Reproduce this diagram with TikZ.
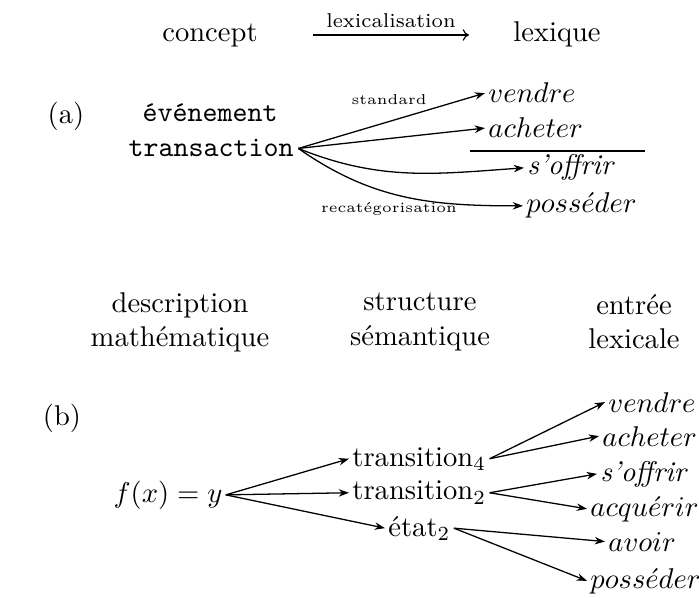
\documentclass[tikz,border=0pt]{standalone}
\usepackage{amsmath}
\usetikzlibrary{arrows.meta}
\tikzset{
  lbl/.style={inner sep=1pt},
  arr/.style={-{Stealth[length=3.6pt,width=2.6pt]}, line width=0.45pt},
  mtharr/.style={-{To[length=2.2pt,width=4pt]}, line width=0.4pt},
  small lbl/.style={font=\tiny, inner sep=0pt},
}
\begin{document}
\begin{tikzpicture}[x=0.35pt,y=-0.35pt]
\useasboundingbox (0,0) rectangle (699,598);
% ---------- header ----------
\node[anchor=base] (concept) at (210,42) {concept};
\node[anchor=base] (lexique) at (557,42) {lexique};
\coordinate (la) at (313,35);
\coordinate (lb) at (469,35);
\draw[mtharr] (la) -- node[above=2.5pt, font=\scriptsize, inner sep=0pt] (lexlbl) {lexicalisation} (lb);
% ---------- (a) ----------
\node[anchor=base] (pa) at (66,124) {(a)};
\node[anchor=base, font=\ttfamily] (ev) at (210,122) {événement};
\node[anchor=base, font=\ttfamily, inner sep=1.5pt] (trans) at (211,157) {transaction};
\node[anchor=base west, lbl] (v1) at (485,103) {$vendre$};
\node[anchor=base west, lbl] (a1) at (485,138) {$acheter$};
\node[anchor=base west, lbl] (s1) at (524,175) {\textit{s'offrir}};
\node[anchor=base west, lbl] (p1) at (523,213) {$poss\acute{e}der$};
\node[small lbl] (std) at (389,100) {standard};
\node[small lbl] (rec) at (389,209) {recatégorisation};
\draw[arr] (trans.east) -- (v1.west);
\draw[arr] (trans.east) -- (a1.west);
\draw[arr] (trans.east) to[out=-22,in=184] (s1.west);
\draw[arr] (trans.east) to[out=-35,in=180] (p1.west);
\coordinate (rl) at (470,151);
\coordinate (rr) at (645,151);
\draw[line width=0.8pt] (rl) -- (rr);
% ---------- (b) ----------
\node[align=center] (hd1) at (180,322) {description\\mathématique};
\node[align=center] (hd2) at (420,322) {structure\\sémantique};
\node[align=center] (hd3) at (634,322) {entrée\\lexicale};
\node[anchor=base] (pb) at (62,425) {(b)};
\node[anchor=base, lbl] (f) at (168,502) {$f(x)=y$};
\node[anchor=base west, lbl] (t4) at (349,466) {transition$_4$};
\node[anchor=base west, lbl] (t2) at (349,500) {transition$_2$};
\node[anchor=base west, lbl] (e2) at (385,536) {état$_2$};
\node[anchor=base west, lbl] (bv) at (605,412) {$vendre$};
\node[anchor=base west, lbl] (ba) at (599,446) {$acheter$};
\node[anchor=base west, lbl] (bs) at (597,481) {\textit{s'offrir}};
\node[anchor=base west, lbl] (bq) at (587,516) {$acqu\acute{e}rir$};
\node[anchor=base west, lbl] (bav) at (605,551) {$avoir$};
\node[anchor=base west, lbl] (bp) at (587,588) {$poss\acute{e}der$};
\draw[arr] (f.east) -- (t4.west);
\draw[arr] (f.east) -- (t2.west);
\draw[arr] (f.east) -- (e2.west);
\draw[arr] (t4.east) -- (bv.west);
\draw[arr] (t4.east) -- (ba.west);
\draw[arr] (t2.east) -- (bs.west);
\draw[arr] (t2.east) -- (bq.west);
\draw[arr] (e2.east) -- (bav.west);
\draw[arr] (e2.east) -- (bp.west);
\end{tikzpicture}
\end{document}
